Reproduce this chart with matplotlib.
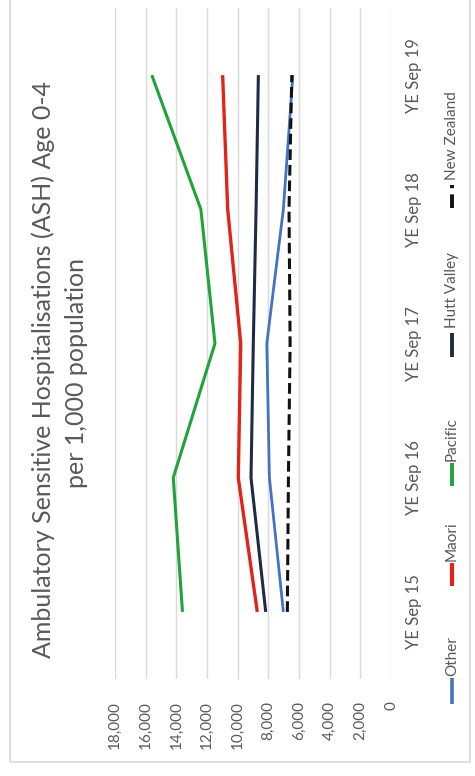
import matplotlib

matplotlib.use("Agg")
import matplotlib.pyplot as plt
from matplotlib.lines import Line2D
from matplotlib.patches import Rectangle

plt.rcParams["font.family"] = ["Lato", "DejaVu Sans"]

W, H = 475, 776

categories = ["YE Sep 15", "YE Sep 16", "YE Sep 17", "YE Sep 18", "YE Sep 19"]
other = [7020, 7930, 8100, 7020, 6400]
maori = [8720, 9960, 9800, 10650, 10980]
pacific = [13600, 14200, 11480, 12400, 15600]
hutt_valley = [8170, 9130, 8980, 8800, 8650]
new_zealand = [6760, 6690, 6580, 6650, 6470]
value_ticks = list(range(0, 18001, 2000))

series = [
    ("Other", other, "#4472c4", "-", 2.0),
    ("Maori", maori, "#e2231a", "-", 2.4),
    ("Pacific", pacific, "#1fa33a", "-", 2.2),
    ("Hutt Valley", hutt_valley, "#1f2a44", "-", 2.2),
    ("New Zealand", new_zealand, "#111111", (0, (3.5, 1.6)), 2.2),
]


def fx(px):
    return px / W


def fy(py):
    return 1 - py / H


fig = plt.figure(figsize=(W / 100, H / 100), dpi=100)
fig.patch.set_facecolor("white")

# light outer frame
fig.patches.append(Rectangle((fx(10), fy(762)), fx(470) - fx(10), fy(-5) - fy(762),
                             transform=fig.transFigure, fill=False,
                             edgecolor="#d9d9d9", linewidth=1.2))

# the chart is turned a quarter turn: values run right-to-left, years bottom-to-top
ax = fig.add_axes([fx(115), fy(679), fx(391) - fx(115), fy(8) - fy(679)])
pos = list(range(len(categories)))
for name, vals, color, ls, lw in series:
    ax.plot(vals, pos, color=color, linestyle=ls, linewidth=lw, solid_capstyle="butt", zorder=3)

ax.set_xlim(18000, 0)
ax.set_ylim(-0.5, len(categories) - 0.5)
for v in value_ticks:
    ax.axvline(v, color="#d9d9d9", linewidth=1.0, zorder=1)
for s in ax.spines.values():
    s.set_visible(False)

ax.set_xticks(value_ticks)
ax.set_xticklabels([f"{v:,}" for v in value_ticks], rotation=90, color="#595959", fontsize=11)
ax.tick_params(axis="x", length=0, pad=16)
ax.set_yticks(pos)
ax.set_yticklabels(categories, rotation=90, va="center", color="#595959", fontsize=12)
ax.tick_params(axis="y", length=0, pad=11, left=False, labelleft=False, right=False, labelright=True)

fig.text(fx(43), fy(370), "Ambulatory Sensitive Hospitalisations (ASH) Age 0-4",
         rotation=90, ha="center", va="center", fontsize=18, color="#595959")
fig.text(fx(77), fy(373), "per 1,000 population",
         rotation=90, ha="center", va="center", fontsize=18, color="#595959")

# legend, drawn by hand so it can be turned with the rest
legend_y = [(704, 678, 676), (586, 563, 561), (486, 463, 461), (357, 333, 328), (208, 185, 180)]
lx = fx(452)
for (name, vals, color, ls, lw), (y0, y1, yt) in zip(series, legend_y):
    fig.lines.append(Line2D([lx, lx], [fy(y0), fy(y1)], transform=fig.transFigure,
                            color=color, linestyle=ls, linewidth=lw + 0.6, solid_capstyle="butt"))
    fig.text(lx, fy(yt), name, rotation=90, ha="center", va="bottom", fontsize=11, color="#595959")

fig.savefig("out.png", dpi=100, facecolor="white")
